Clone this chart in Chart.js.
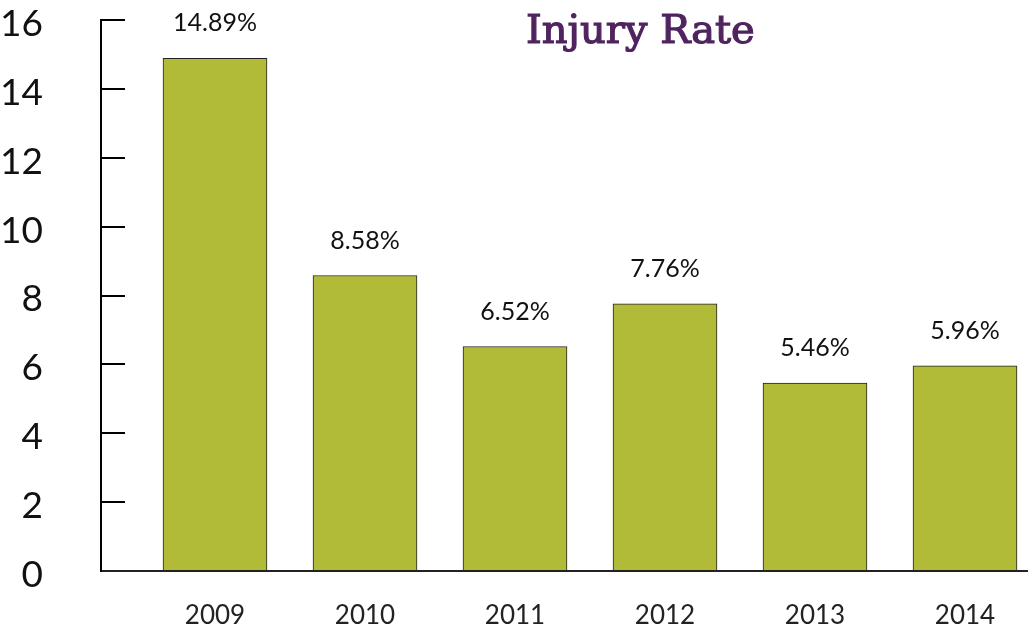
<!DOCTYPE html>
<html>
<head>
<meta charset="utf-8">
<script src="https://cdn.jsdelivr.net/npm/chart.js@4"></script>
<style>
html, body { margin: 0; padding: 0; background: #fff; overflow: hidden; }
</style>
</head>
<body>
<canvas id="chart" width="1028" height="627"></canvas>
<script>
// chart data
const years = ['2009', '2010', '2011', '2012', '2013', '2014'];
const injuryRate = [14.89, 8.58, 6.52, 7.76, 5.46, 5.96];
const rateLabels = ['14.89%', '8.58%', '6.52%', '7.76%', '5.46%', '5.96%'];
const yTicks = [0, 2, 4, 6, 8, 10, 12, 14, 16];
const titleText = 'Injury Rate';

// draws the % labels above bars and the title
const labelPlugin = {
    id: 'labelPlugin',
    afterDatasetsDraw: (chart) => {
        const c = chart.ctx;
        const meta = chart.getDatasetMeta(0);
        c.save();
        c.fillStyle = '#111';
        c.font = '25px Lato, sans-serif';
        c.textAlign = 'center';
        c.textBaseline = 'middle';
        meta.data.forEach((bar, i) => {
            c.fillText(rateLabels[i], bar.x, bar.y - 35);
        });

        // title, slightly thickened with a thin stroke
        c.fillStyle = '#50245f';
        c.strokeStyle = '#50245f';
        c.lineWidth = 1.2;
        c.font = '40px "DejaVu Serif", serif';
        c.textAlign = 'left';
        c.textBaseline = 'alphabetic';
        c.fillText(titleText, 526, 43);
        c.strokeText(titleText, 526, 43);
        c.restore();
    },
};

const ctx = document.getElementById('chart');

new Chart(ctx, {
    type: 'bar',
    data: {
        datasets: [
            {
                data: injuryRate.map((v, i) => ({ x: i, y: v })),
                backgroundColor: '#b1bb38',
                borderColor: '#222',
                borderWidth: 1,
                barThickness: 104,
            },
        ],
    },
    options: {
        responsive: false,
        animation: false,
        layout: { padding: { top: 20, left: 0, right: 0, bottom: 0 } },
        plugins: {
            legend: { display: false },
            tooltip: { enabled: false },
        },
        scales: {
            x: {
                type: 'linear',
                offset: false,
                min: -0.76,
                max: 5.42,
                afterBuildTicks: (s) => { s.ticks = years.map((y, i) => ({ value: i })); },
                afterFit: (s) => { s.height = 56; },
                grid: { display: false },
                border: { display: true, color: '#222', width: 2 },
                ticks: {
                    padding: 21,
                    color: '#222',
                    autoSkip: false,
                    maxRotation: 0,
                    font: { family: 'Lato, sans-serif', size: 26 },
                    callback: (v) => years[v],
                },
            },
            y: {
                min: 0,
                max: 16,
                afterBuildTicks: (s) => { s.ticks = yTicks.map((v) => ({ value: v })); },
                afterFit: (s) => {
                    s.width = 101;
                    // label padding is large, don't let it push the chart area in
                    s.paddingTop = 0;
                    s.paddingBottom = 0;
                },
                grid: { drawOnChartArea: false, tickLength: -24, color: '#000', lineWidth: 2 },
                border: { color: '#000', width: 2 },
                ticks: {
                    padding: 82,
                    labelOffset: 4,
                    color: '#111',
                    font: { family: 'Lato, sans-serif', size: 37, lineHeight: 1 },
                },
            },
        },
    },
    plugins: [labelPlugin],
});
</script>
</body>
</html>
